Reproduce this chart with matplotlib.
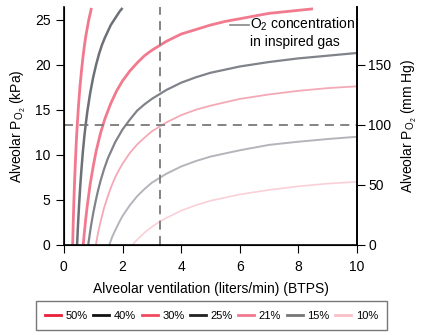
import matplotlib
matplotlib.use("Agg")
import matplotlib.pyplot as plt
from matplotlib.lines import Line2D

plt.rcParams['font.family'] = ['Liberation Sans', 'DejaVu Sans']
plt.rcParams['mathtext.fontset'] = 'custom'
plt.rcParams['mathtext.rm'] = 'Liberation Sans'
plt.rcParams['mathtext.it'] = 'Liberation Sans'

# O2 concentration curves: alveolar ventilation (L/min) vs alveolar PO2 (kPa)
labels = ['50%', '40%', '30%', '25%', '21%', '15%', '10%']

x50 = [0.30, 0.32, 0.34, 0.36, 0.38, 0.40, 0.43, 0.46, 0.50, 0.55, 0.60, 0.65,
       0.70, 0.75, 0.80, 0.85, 0.90, 0.94]
y50 = [0.0, 2.6, 4.7, 6.6, 8.2, 9.75, 11.8, 13.5, 15.5, 17.6, 19.3, 20.8,
       22.1, 23.2, 24.1, 25.0, 25.7, 26.3]

x40 = [0.45, 0.48, 0.52, 0.56, 0.60, 0.65, 0.70, 0.75, 0.80, 0.90, 1.00, 1.10,
       1.20, 1.30, 1.40, 1.50, 1.60, 1.70, 1.80, 1.90, 2.00]
y40 = [0.0, 2.1, 4.5, 6.6, 8.4, 10.4, 12.1, 13.5, 14.8, 16.9, 18.6, 20.0,
       21.2, 22.2, 23.0, 23.7, 24.4, 24.9, 25.4, 25.9, 26.3]

x30 = [0.66, 0.70, 0.75, 0.80, 0.85, 0.90, 1.00, 1.10, 1.25, 1.40, 1.60, 1.80,
       2.00, 2.25, 2.50, 2.75, 3.00, 3.50, 4.00, 4.50, 5.00, 5.50, 6.00, 7.00,
       7.75, 8.50]
y30 = [0.0, 1.4, 3.0, 4.4, 5.6, 6.8, 8.7, 10.4, 12.4, 14.0, 15.7, 17.1,
       18.2, 19.3, 20.2, 21.0, 21.6, 22.6, 23.4, 23.9, 24.4, 24.8, 25.1, 25.7,
       25.95, 26.2]

x25 = [0.83, 0.87, 0.92, 1.00, 1.08, 1.17, 1.25, 1.37, 1.50, 1.75, 2.00, 2.25,
       2.50, 2.75, 3.00, 3.50, 4.00, 4.50, 5.00, 6.00, 7.00, 8.00, 9.00, 10.0]
y25 = [0.0, 0.9, 2.0, 3.5, 4.8, 6.1, 7.1, 8.4, 9.6, 11.4, 12.8, 13.9,
       14.9, 15.6, 16.2, 17.2, 18.0, 18.6, 19.1, 19.8, 20.3, 20.7, 21.0, 21.3]

x21 = [1.09, 1.13, 1.17, 1.25, 1.37, 1.50, 1.62, 1.75, 1.87, 2.00, 2.25, 2.50,
       2.75, 3.00, 3.50, 4.00, 4.50, 5.00, 6.00, 7.00, 8.00, 9.00, 10.0]
y21 = [0.0, 0.7, 1.4, 2.55, 4.1, 5.4, 6.5, 7.5, 8.25, 9.0, 10.2, 11.15,
       11.9, 12.6, 13.6, 14.4, 15.0, 15.45, 16.2, 16.7, 17.1, 17.4, 17.6]

x15 = [1.55, 1.60, 1.65, 1.75, 1.87, 2.00, 2.25, 2.50, 2.75, 3.00, 3.50, 4.00,
       4.50, 5.00, 6.00, 7.00, 8.00, 9.00, 10.0]
y15 = [0.0, 0.45, 0.9, 1.6, 2.4, 3.2, 4.4, 5.4, 6.2, 6.9, 7.9, 8.7,
       9.3, 9.8, 10.5, 11.1, 11.45, 11.75, 12.0]

x10 = [2.34, 2.45, 2.60, 2.80, 3.00, 3.25, 3.50, 3.75, 4.00, 4.50, 5.00, 5.50,
       6.00, 7.00, 8.00, 9.00, 10.0]
y10 = [0.0, 0.4, 0.9, 1.5, 2.0, 2.55, 3.0, 3.4, 3.8, 4.4, 4.9, 5.25,
       5.6, 6.1, 6.5, 6.8, 7.0]

curve_x = [x50, x40, x30, x25, x21, x15, x10]
curve_y = [y50, y40, y30, y25, y21, y15, y10]
curve_colors = ['#f2788e', '#6d7078', '#f27a8f', '#80838a', '#f5a9b6', '#b3b5ba', '#f9d0d7']
curve_widths = [2.0, 1.8, 2.0, 1.6, 1.3, 1.4, 1.2]
legend_colors = ['#e8203c', '#111111', '#f04a60', '#222222', '#f07890', '#777777', '#f8c0c8']

v_dash = 3.28    # vertical reference ventilation
h_dash = 13.33   # 100 mm Hg

fs = 10

fig = plt.figure(figsize=(4.23, 3.35), dpi=100)
ax = fig.add_axes([0.151, 0.269, 0.693, 0.710])

for xs, ys, c, lw in zip(curve_x, curve_y, curve_colors, curve_widths):
    ax.plot(xs, ys, color=c, lw=lw, solid_capstyle='butt', solid_joinstyle='round')

ax.axvline(v_dash, color='#7a7a7a', lw=1.3, ls=(0, (5, 3.5)))
ax.axhline(h_dash, color='#7a7a7a', lw=1.3, ls=(0, (5, 3.5)))

ax.set_xlim(0, 10)
ax.set_ylim(0, 26.4)
ax.set_xticks([0, 2, 4, 6, 8, 10])
ax.set_yticks([0, 5, 10, 15, 20, 25])
ax.spines['top'].set_visible(False)
for s in ['left', 'right', 'bottom']:
    ax.spines[s].set_linewidth(1.2)
ax.tick_params(labelsize=fs, length=6, width=0.8)
ax.tick_params(axis='x', pad=5)
ax.tick_params(axis='y', pad=3.5)
ax.set_xlabel('Alveolar ventilation (liters/min) (BTPS)', fontsize=fs, labelpad=6)
ax.set_ylabel(r'Alveolar P$_{\mathrm{O_2}}$ (kPa)', fontsize=fs, labelpad=5)

ax2 = ax.twinx()
ax2.set_ylim(0, 26.4 * 7.5)
ax2.set_yticks([0, 50, 100, 150])
ax2.spines['top'].set_visible(False)
ax2.spines['right'].set_linewidth(1.2)
ax2.tick_params(labelsize=fs, length=6, width=0.8, pad=2)
ax2.set_ylabel(r'Alveolar P$_{\mathrm{O_2}}$ (mm Hg)', fontsize=fs, labelpad=6)

ax.plot([5.67, 6.3], [24.4, 24.4], color='#888888', lw=1.2)
ax.text(6.36, 25.4, 'O$_2$ concentration\nin inspired gas', fontsize=fs,
        va='top', ha='left', linespacing=1.1)

handles = [Line2D([0], [0], color=c, lw=2) for c in legend_colors]
fig.legend(handles, labels, loc='center', bbox_to_anchor=(0.5, 0.058), ncol=7,
           fontsize=8, frameon=True, fancybox=False, edgecolor='#555555',
           handlelength=1.45, handletextpad=0.4, columnspacing=0.5,
           borderpad=0.85)

fig.savefig('out.png', dpi=100)
